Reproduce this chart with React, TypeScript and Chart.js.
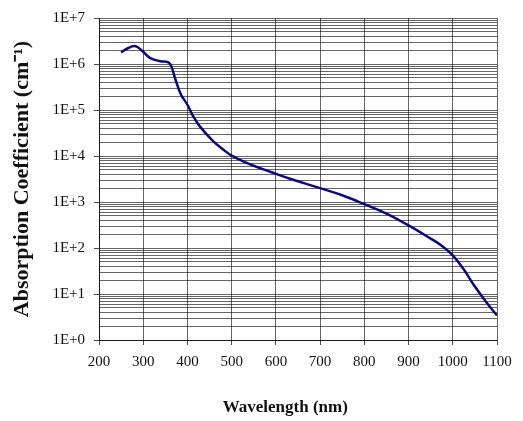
import React, { useEffect, useRef } from "react";
import { Chart, registerables } from "chart.js";

Chart.register(...registerables);

const wavelengths = [250, 265, 281, 296, 315, 338, 357, 364, 372, 385, 400, 413, 428, 458, 481, 500, 534, 572, 600, 632, 700, 750, 800, 850, 900, 950, 975, 1000, 1025, 1050, 1075, 1100];
const absorption = [1.78e6, 2.2e6, 2.45e6, 2.0e6, 1.36e6, 1.15e6, 1.08e6, 8.7e5, 4.9e5, 2.2e5, 1.3e5, 7.3e4, 4.4e4, 2.1e4, 1.38e4, 1.02e4, 7.1e3, 5.1e3, 4.1e3, 3.2e3, 2.0e3, 1.4e3, 900, 560, 310, 160, 112, 69, 34, 14.5, 6.8, 3.4];
const yTickLabels = ["1E+0", "1E+1", "1E+2", "1E+3", "1E+4", "1E+5", "1E+6", "1E+7"];
const xTicks = [200, 300, 400, 500, 600, 700, 800, 900, 1000, 1100];
const xTitle = "Wavelength (nm)";
const yTitle = "Absorption Coefficient (cm\u207B\u00B9)";

const FONT = "'Liberation Serif', 'Times New Roman', serif";

function isDecade(v: number) {
  const l = Math.log10(v);
  return Math.abs(l - Math.round(l)) < 1e-9;
}

export default function App() {
  const ref = useRef<HTMLCanvasElement | null>(null);
  useEffect(() => {
    if (!ref.current) return;
    const chart = new Chart(ref.current, {
      type: "line",
      data: {
        datasets: [
          {
            data: wavelengths.map((x, i) => ({ x, y: absorption[i] })),
            borderColor: "#0a0a80",
            borderWidth: 2.5,
            pointRadius: 0,
            tension: 0.4,
            fill: false,
          },
        ],
      },
      options: {
        animation: false,
        responsive: true,
        maintainAspectRatio: false,
        layout: { padding: { top: 16, right: 26, left: 0, bottom: 0 } },
        plugins: { legend: { display: false }, tooltip: { enabled: false } },
        scales: {
          x: {
            type: "linear",
            min: xTicks[0],
            max: xTicks[xTicks.length - 1],
            afterBuildTicks: (scale: any) => {
              scale.ticks = xTicks.map((v) => ({ value: v }));
            },
            afterFit: (scale: any) => {
              scale.height = 81;
            },
            grid: {
              color: "rgba(0,0,0,0.6)",
              lineWidth: 1,
              tickLength: 5,
              tickColor: "rgba(0,0,0,0.7)",
            },
            border: { color: "rgba(0,0,0,0.75)", width: 1 },
            ticks: {
              autoSkip: false,
              maxRotation: 0,
              padding: 8,
              color: "#111",
              font: { family: FONT, size: 15 },
              callback: (v: any) => String(v),
            },
            title: {
              display: true,
              text: xTitle + "\u00A0\u00A0\u00A0\u00A0\u00A0\u00A0",
              color: "#111",
              font: { family: FONT, size: 17, weight: "bold" },
              padding: { top: 0, bottom: 3 },
            },
          },
          y: {
            type: "logarithmic",
            min: 1,
            max: 1e7,
            afterBuildTicks: (scale: any) => {
              const t: any[] = [];
              for (let k = 0; k < yTickLabels.length - 1; k++) {
                for (let m = 1; m <= 9; m++) t.push({ value: m * Math.pow(10, k) });
              }
              t.push({ value: Math.pow(10, yTickLabels.length - 1) });
              scale.ticks = t;
            },
            afterFit: (scale: any) => {
              scale.width = 99;
            },
            grid: {
              color: "rgba(0,0,0,0.6)",
              lineWidth: 1,
              tickLength: 5,
              tickColor: (ctx: any) =>
                ctx.tick && isDecade(ctx.tick.value) ? "rgba(0,0,0,0.7)" : "rgba(0,0,0,0)",
            },
            border: { color: "rgba(0,0,0,0.75)", width: 1 },
            ticks: {
              autoSkip: false,
              padding: 9,
              color: "#111",
              font: { family: FONT, size: 15 },
              callback: (v: any) => {
                const n = Number(v);
                if (!isDecade(n)) return "";
                return yTickLabels[Math.round(Math.log10(n))];
              },
            },
            title: {
              display: true,
              text: yTitle,
              color: "#111",
              font: { family: FONT, size: 22, weight: "bold" },
              padding: { top: 9, bottom: 0 },
            },
          },
        },
      },
    } as any);
    return () => chart.destroy();
  }, []);
  return (
    <div style={{ position: "absolute", left: 0, top: 0, width: 523, height: 421, background: "#fff" }}>
      <canvas ref={ref} />
    </div>
  );
}
